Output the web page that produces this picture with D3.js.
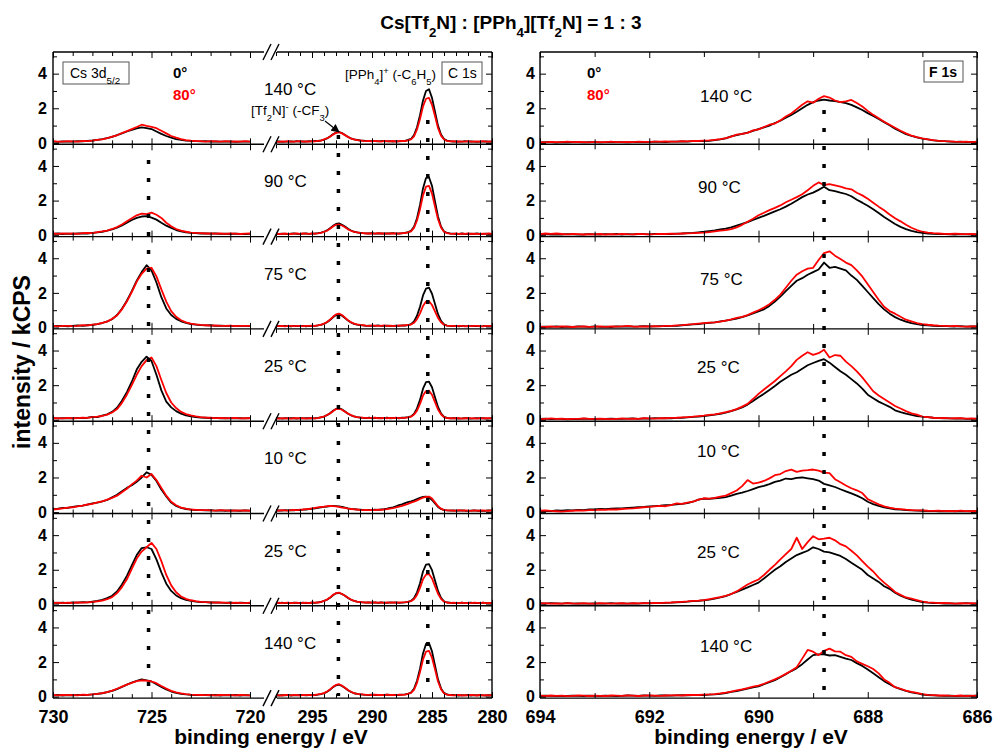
<!DOCTYPE html>
<html>
<head>
<meta charset="utf-8">
<script src="https://cdn.jsdelivr.net/npm/d3@7"></script>
<style>
  body { margin: 0; background: #fff; }
  svg text { font-family: "Liberation Sans", Arial, sans-serif; }
</style>
</head>
<body>
<svg id="chart" width="993" height="751"></svg>
<script>
// ---- data ----

var temps = ["140 °C", "90 °C", "75 °C", "25 °C", "10 °C", "25 °C", "140 °C"];
var angles = ["0°", "80°"];
var angle_colors = ["#000000", "#ff0000"];

// Sampling grids in binding energy (eV), one value per step going down from start
var cs_grid = { start: 730, step: 0.25 };   // Cs 3d5/2, 730 -> 720
var c_grid  = { start: 298, step: 0.25 };   // C 1s, 298 -> 280
var f_grid  = { start: 694, step: 0.1 };    // F 1s, 694 -> 686

// Cs 3d5/2, 0 deg, one array per temperature step (kCPS)
var cs_0 = [
  [.08,.06,.09,.07,.08,.1,.09,.12,.14,.17,.22,.28,.35,.45,.55,.66,.75,.84,.9,.86,.8,.66,.52,.4,.3,.22,.17,.13,.12,.1,.09,.1,.08,.09,.07,.08,.09,.06,.08,.07,.08],
  [.08,.1,.07,.09,.08,.1,.11,.1,.13,.16,.2,.26,.33,.44,.57,.72,.88,1.0,1.08,1.1,1.02,.9,.72,.55,.42,.3,.22,.17,.14,.12,.1,.11,.09,.1,.08,.09,.07,.09,.08,.07,.08],
  [.08,.1,.09,.07,.1,.12,.1,.13,.15,.2,.26,.35,.48,.72,1.08,1.55,2.1,2.7,3.2,3.6,3.3,2.6,1.75,1.1,.72,.5,.36,.27,.2,.17,.14,.12,.13,.1,.11,.09,.1,.08,.09,.1,.08],
  [.1,.08,.09,.1,.08,.11,.1,.12,.17,.16,.24,.32,.46,.7,1.1,1.6,2.2,2.9,3.35,3.65,3.4,2.6,1.7,1.05,.72,.5,.36,.26,.2,.16,.13,.12,.1,.11,.09,.1,.08,.1,.09,.08,.1],
  [.18,.2,.25,.24,.3,.34,.38,.43,.5,.55,.62,.7,.85,1.0,1.2,1.4,1.55,1.75,2.0,2.3,2.15,1.8,1.3,.9,.55,.36,.24,.18,.14,.12,.11,.1,.11,.09,.1,.08,.1,.09,.08,.1,.09],
  [.1,.09,.1,.08,.12,.1,.13,.12,.16,.2,.26,.36,.5,.75,1.15,1.65,2.25,2.85,3.25,3.3,3.2,2.6,1.85,1.2,.78,.52,.36,.26,.2,.16,.14,.13,.11,.12,.1,.09,.11,.08,.1,.09,.08],
  [.08,.1,.07,.09,.08,.1,.09,.11,.13,.16,.2,.26,.34,.44,.56,.7,.82,.92,1.0,.95,.88,.72,.56,.42,.3,.22,.17,.13,.11,.1,.09,.1,.08,.1,.07,.09,.08,.1,.07,.09,.08]
];

// Cs 3d5/2, 80 deg
var cs_80 = [
  [.1,.08,.07,.1,.09,.08,.11,.1,.13,.18,.2,.27,.36,.44,.57,.68,.8,.92,1.05,.98,.93,.85,.7,.55,.4,.3,.22,.16,.13,.11,.1,.08,.1,.09,.08,.1,.07,.09,.08,.1,.07],
  [.1,.08,.11,.09,.1,.08,.12,.13,.12,.18,.22,.27,.36,.47,.62,.8,.98,1.15,1.25,1.22,1.3,1.18,1.0,.72,.52,.36,.26,.2,.15,.13,.12,.1,.11,.09,.1,.08,.1,.09,.07,.09,.1],
  [.1,.07,.1,.09,.08,.1,.13,.12,.16,.19,.27,.34,.5,.7,1.05,1.5,2.05,2.65,3.1,3.4,3.45,2.95,2.2,1.5,.95,.62,.42,.3,.22,.18,.15,.13,.11,.12,.09,.1,.11,.08,.1,.09,.1],
  [.09,.1,.08,.11,.09,.1,.12,.11,.15,.18,.22,.3,.42,.62,.98,1.45,2.0,2.6,3.1,3.45,3.6,3.1,2.3,1.55,1.0,.68,.46,.33,.25,.2,.16,.13,.12,.1,.11,.09,.1,.11,.08,.1,.09],
  [.15,.18,.22,.26,.28,.33,.38,.44,.48,.56,.62,.72,.82,.95,1.15,1.35,1.6,1.82,2.1,2.0,2.2,1.85,1.4,.95,.6,.4,.26,.2,.15,.13,.11,.12,.1,.09,.11,.1,.08,.1,.09,.1,.08],
  [.08,.1,.07,.1,.09,.11,.1,.12,.14,.18,.22,.3,.42,.65,1.0,1.45,2.05,2.65,3.05,3.3,3.55,3.2,2.5,1.7,1.1,.7,.46,.32,.24,.19,.15,.13,.12,.1,.11,.1,.08,.1,.09,.08,.1],
  [.1,.08,.1,.09,.11,.08,.12,.1,.14,.17,.21,.27,.35,.46,.58,.7,.8,.9,.95,.93,.88,.78,.62,.47,.34,.25,.19,.15,.12,.11,.1,.09,.11,.08,.1,.09,.11,.08,.1,.09,.08]
];

// C 1s, 0 deg
var c_0 = [
  [.07,.09,.06,.08,.07,.09,.08,.1,.07,.09,.08,.1,.09,.11, .11,.14,.18,.26,.37,.5,.6,.63,.57,.46,.34,.26,.2,.17,.14,.13,.11, .12,.1,.11,.09,.1,.11,.09,.1,.08,.1,.09,.11,.12, .17,.23,.45,.9,1.6,2.45,3.0,3.1,2.6,1.8,1.0,.48,.22,.13, .1,.08,.09,.07,.08,.1,.07,.09,.08,.06,.08,.07,.09,.08,.07],
  [.08,.07,.09,.08,.06,.09,.1,.08,.07,.09,.1,.08,.09,.1, .12,.15,.2,.28,.4,.54,.65,.68,.6,.5,.37,.27,.2,.16,.14,.12,.11, .1,.12,.09,.11,.1,.09,.11,.1,.12,.09,.1,.11,.13, .18,.25,.48,.98,1.75,2.7,3.3,3.35,2.85,1.95,1.08,.5,.22,.13, .1,.09,.07,.08,.1,.08,.07,.09,.08,.1,.07,.08,.09,.07,.08],
  [.07,.09,.08,.1,.08,.07,.09,.08,.1,.09,.07,.09,.08,.1, .12,.15,.21,.3,.43,.59,.72,.76,.68,.55,.4,.29,.21,.17,.14,.12,.1, .11,.09,.1,.12,.1,.09,.11,.1,.09,.11,.1,.12,.11, .14,.19,.35,.68,1.2,1.85,2.25,2.3,1.95,1.36,.77,.38,.18,.11, .09,.08,.1,.07,.09,.08,.07,.1,.08,.09,.07,.08,.1,.08,.09],
  [.08,.1,.07,.09,.08,.1,.09,.07,.1,.08,.09,.1,.08,.09, .11,.14,.19,.27,.38,.52,.63,.66,.6,.48,.35,.26,.2,.16,.13,.11,.1, .12,.09,.1,.11,.09,.1,.12,.09,.1,.11,.09,.12,.12, .15,.2,.34,.66,1.15,1.8,2.18,2.2,1.88,1.3,.74,.37,.17,.11, .08,.1,.09,.07,.08,.1,.09,.07,.08,.1,.08,.09,.07,.08,.1],
  [.08,.1,.09,.11,.1,.12,.1,.13,.12,.14,.15,.17,.19,.22, .25,.27,.3,.32,.35,.36,.35,.33,.3,.26,.22,.19,.17,.15,.14,.13,.12, .13,.12,.14,.13,.15,.17,.2,.24,.28,.34,.4,.45,.52, .58,.62,.68,.75,.82,.88,.9,.85,.7,.5,.3,.18,.12,.1, .09,.1,.08,.09,.1,.08,.07,.09,.1,.08,.09,.07,.08,.1,.09],
  [.09,.08,.1,.07,.09,.08,.1,.09,.07,.1,.08,.09,.1,.09, .12,.14,.2,.27,.38,.53,.64,.66,.6,.5,.37,.27,.2,.16,.13,.12,.1, .11,.1,.12,.09,.11,.1,.09,.12,.1,.11,.09,.1,.12, .15,.2,.36,.7,1.22,1.9,2.3,2.33,1.98,1.38,.78,.38,.18,.11, .1,.08,.09,.07,.1,.08,.09,.1,.07,.09,.08,.1,.08,.07,.09],
  [.08,.07,.09,.08,.1,.07,.09,.08,.1,.09,.08,.1,.09,.1, .12,.15,.2,.28,.4,.55,.66,.7,.62,.5,.37,.27,.2,.16,.14,.12,.11, .1,.12,.1,.11,.09,.1,.12,.1,.09,.11,.1,.12,.13, .17,.24,.46,.92,1.62,2.5,3.05,3.1,2.62,1.8,1.0,.48,.22,.13, .09,.1,.08,.07,.09,.08,.1,.07,.09,.08,.1,.08,.07,.09,.08]
];

// C 1s, 80 deg
var c_80 = [
  [.08,.06,.09,.07,.1,.08,.07,.09,.1,.08,.09,.07,.1,.09, .12,.13,.2,.27,.36,.48,.58,.62,.55,.45,.35,.25,.21,.16,.15,.12,.1, .11,.09,.12,.1,.08,.11,.1,.09,.11,.08,.1,.12,.11, .15,.2,.38,.78,1.38,2.1,2.55,2.6,2.2,1.55,.86,.42,.2,.12, .09,.1,.07,.09,.08,.07,.1,.08,.07,.09,.08,.1,.07,.08,.09],
  [.09,.07,.08,.1,.08,.07,.09,.11,.08,.1,.09,.08,.1,.09, .11,.14,.19,.26,.37,.5,.6,.62,.56,.46,.34,.26,.19,.17,.13,.12,.1, .11,.1,.09,.12,.1,.11,.09,.1,.11,.1,.09,.12,.12, .16,.22,.42,.85,1.5,2.3,2.8,2.85,2.4,1.65,.92,.45,.2,.12, .09,.08,.1,.07,.09,.08,.1,.07,.09,.08,.07,.09,.08,.1,.07],
  [.09,.08,.1,.07,.09,.1,.08,.1,.09,.08,.1,.09,.11,.09, .13,.16,.22,.32,.45,.62,.76,.8,.72,.57,.42,.31,.22,.18,.15,.13,.11, .1,.12,.11,.09,.1,.12,.1,.11,.09,.1,.12,.11,.13, .14,.17,.27,.48,.82,1.24,1.5,1.52,1.3,.93,.55,.3,.16,.11, .1,.09,.08,.1,.09,.07,.1,.08,.09,.1,.08,.07,.09,.1,.08],
  [.09,.07,.1,.08,.09,.07,.1,.09,.08,.1,.07,.09,.1,.08, .1,.15,.18,.28,.37,.5,.62,.64,.58,.47,.36,.27,.2,.15,.14,.12,.11, .1,.11,.12,.09,.1,.11,.09,.11,.1,.12,.1,.11,.12, .14,.18,.3,.53,.92,1.4,1.66,1.68,1.45,1.02,.6,.32,.16,.1, .09,.08,.1,.09,.07,.09,.1,.08,.09,.07,.1,.08,.09,.1,.07],
  [.1,.08,.11,.1,.09,.12,.13,.11,.14,.15,.17,.18,.21,.24, .27,.3,.31,.34,.36,.35,.33,.3,.26,.24,.2,.18,.16,.15,.13,.12,.13, .11,.13,.12,.14,.13,.15,.17,.2,.23,.27,.32,.36,.42, .48,.55,.6,.68,.76,.84,.88,.9,.78,.56,.34,.2,.13,.1, .1,.08,.09,.11,.08,.1,.09,.07,.1,.09,.08,.1,.09,.08,.1],
  [.07,.1,.08,.09,.1,.07,.09,.1,.08,.09,.1,.08,.11,.1, .11,.15,.2,.28,.4,.55,.65,.68,.6,.5,.38,.28,.21,.16,.14,.12,.11, .12,.1,.11,.1,.12,.09,.11,.1,.12,.1,.11,.12,.13, .15,.19,.3,.55,.95,1.45,1.72,1.75,1.5,1.06,.62,.32,.16,.11, .08,.1,.09,.08,.1,.07,.09,.08,.1,.09,.07,.1,.08,.09,.08],
  [.1,.08,.07,.1,.09,.08,.1,.09,.07,.1,.09,.11,.08,.1, .13,.16,.21,.3,.42,.57,.68,.72,.64,.52,.39,.29,.21,.17,.14,.13,.11, .11,.1,.12,.1,.11,.09,.12,.1,.11,.09,.12,.11,.12, .16,.22,.4,.8,1.42,2.15,2.6,2.65,2.25,1.58,.88,.43,.2,.12, .1,.08,.09,.1,.07,.09,.08,.1,.09,.07,.1,.08,.09,.07,.1]
];

// F 1s, 0 deg
var f_0 = [
  [.03,.05,.04,.02,.04,.03,.05,.04,.03,.04, .05,.03,.04,.06,.04,.05,.03,.05,.06,.04, .05,.07,.06,.05,.08,.07,.09,.08,.1,.11,
   .1,.12,.16,.2,.26,.38,.45,.52,.6,.7, .8,.9,1.0,1.15,1.28,1.45,1.62,1.8,2.0,2.2, 2.35,2.45,2.5,2.45,2.42,2.35,2.3,2.2,2.05,1.9,
   1.72,1.55,1.38,1.2,1.02,.82,.66,.5,.4,.32, .25,.2,.15,.12,.1,.08,.06,.07,.05,.06,.05],
  [.04,.06,.03,.05,.04,.06,.05,.03,.04,.06, .05,.04,.06,.05,.07,.04,.06,.05,.07,.06, .05,.07,.06,.08,.07,.09,.1,.12,.14,.17,
   .2,.24,.28,.33,.38,.45,.55,.65,.76,.88, 1.0,1.12,1.25,1.38,1.5,1.65,1.82,2.0,2.2,2.35, 2.46,2.62,2.8,2.6,2.55,2.46,2.38,2.25,2.05,1.88,
   1.7,1.5,1.28,1.05,.85,.65,.48,.35,.25,.18, .14,.1,.08,.07,.06,.05,.04,.06,.05,.04,.05],
  [.03,.05,.04,.06,.03,.05,.04,.06,.05,.04, .06,.04,.05,.03,.06,.05,.07,.05,.06,.08, .06,.07,.08,.08,.1,.1,.13,.15,.18,.2,
   .24,.27,.3,.35,.4,.45,.52,.6,.7,.82, .93,1.05,1.25,1.5,1.78,2.1,2.4,2.7,2.85,3.05, 3.2,3.35,3.75,3.45,3.5,3.4,3.3,3.0,2.75,2.4,
   2.05,1.7,1.35,1.05,.8,.6,.45,.34,.25,.19, .14,.12,.1,.08,.09,.07,.06,.08,.05,.07,.06],
  [.05,.07,.04,.06,.05,.03,.06,.04,.07,.05, .04,.06,.05,.07,.06,.05,.07,.08,.06,.08, .07,.09,.08,.1,.09,.11,.12,.14,.17,.19,
   .22,.26,.3,.35,.42,.5,.6,.72,.88,1.08, 1.3,1.5,1.72,1.95,2.2,2.4,2.6,2.75,2.95,3.15, 3.28,3.4,3.5,3.3,3.05,2.8,2.6,2.35,2.1,1.8,
   1.45,1.25,1.05,.9,.75,.55,.45,.36,.28,.22, .18,.15,.12,.1,.09,.08,.07,.08,.06,.05,.07],
  [.05,.07,.06,.1,.08,.12,.1,.13,.12,.15, .16,.18,.17,.2,.22,.21,.24,.26,.28,.3, .33,.35,.37,.4,.42,.45,.48,.52,.6,.72,
   .78,.76,.8,.82,.86,.95,1.05,1.12,1.22,1.33, 1.44,1.52,1.62,1.75,1.82,1.94,1.9,1.98,2.0,1.95, 1.9,1.82,1.63,1.55,1.45,1.32,1.2,1.08,.95,.8,
   .6,.46,.36,.28,.22,.16,.14,.12,.1,.09, .08,.06,.07,.05,.06,.04,.05,.06,.04,.05,.06],
  [.07,.05,.08,.06,.04,.07,.05,.06,.04,.05, .06,.04,.05,.07,.05,.06,.04,.06,.05,.07, .06,.08,.07,.09,.1,.12,.14,.16,.19,.21,
   .24,.28,.34,.4,.48,.6,.72,.85,.98,1.12, 1.26,1.5,1.75,2.0,2.2,2.45,2.65,2.85,2.98,3.1, 3.3,3.2,3.05,3.0,2.9,2.8,2.62,2.4,2.2,2.0,
   1.7,1.5,1.3,1.05,.9,.68,.5,.38,.28,.2, .13,.1,.08,.07,.05,.06,.04,.05,.07,.04,.06],
  [.04,.06,.05,.03,.05,.04,.06,.05,.04,.06, .05,.04,.06,.05,.03,.05,.07,.06,.05,.07, .06,.05,.07,.08,.06,.08,.09,.08,.1,.09,
   .1,.12,.14,.17,.21,.28,.32,.4,.47,.54, .6,.72,.84,.96,1.12,1.3,1.48,1.65,1.88,2.15, 2.4,2.45,2.44,2.38,2.4,2.3,2.2,2.12,1.94,1.78,
   1.57,1.35,1.12,.9,.72,.55,.44,.33,.25,.2, .12,.1,.08,.06,.05,.06,.04,.05,.06,.04,.07]
];

// F 1s, 80 deg
var f_80 = [
  [.05,.03,.06,.04,.05,.07,.04,.06,.05,.03, .06,.04,.05,.07,.05,.04,.06,.05,.07,.06, .06,.08,.07,.09,.07,.08,.1,.09,.12,.11,
   .13,.15,.18,.22,.28,.36,.48,.52,.58,.72, .78,.92,1.05,1.12,1.3,1.52,1.7,1.95,2.2,2.4, 2.32,2.55,2.7,2.62,2.45,2.35,2.4,2.48,2.3,2.1,
   1.85,1.62,1.42,1.22,1.05,.88,.7,.55,.42,.33, .26,.2,.16,.12,.1,.09,.07,.06,.08,.05,.07],
  [.06,.1,.08,.1,.07,.05,.07,.06,.04,.06, .05,.07,.04,.06,.05,.08,.06,.05,.07,.06, .05,.06,.08,.07,.09,.08,.1,.11,.12,.14,
   .15,.18,.22,.26,.3,.35,.45,.6,.78,.95, 1.15,1.3,1.45,1.58,1.72,1.9,2.05,2.2,2.37,2.6, 2.85,3.05,2.9,2.95,2.88,2.8,2.7,2.65,2.45,2.3,
   2.1,1.88,1.65,1.44,1.2,.98,.8,.6,.43,.3, .2,.15,.12,.1,.08,.07,.09,.07,.06,.08,.05],
  [.05,.03,.06,.04,.07,.05,.03,.05,.06,.04, .05,.07,.04,.06,.05,.07,.09,.06,.05,.07, .06,.08,.07,.09,.1,.12,.14,.17,.19,.22,
   .25,.28,.3,.34,.4,.47,.55,.62,.72,.86, 1.0,1.15,1.35,1.6,1.9,2.3,2.7,3.05,3.25,3.4, 3.45,3.9,4.3,4.4,4.15,3.95,3.75,3.6,3.3,2.95,
   2.5,2.05,1.6,1.2,.95,.8,.62,.45,.36,.26, .2,.16,.13,.11,.1,.08,.1,.07,.05,.07,.06],
  [.04,.06,.08,.05,.07,.04,.06,.05,.08,.06, .05,.07,.06,.04,.06,.08,.05,.07,.06,.09, .08,.07,.1,.09,.11,.12,.14,.16,.18,.21,
   .24,.28,.32,.37,.44,.52,.62,.76,.92,1.2, 1.5,1.75,2.0,2.24,2.52,2.8,3.1,3.46,3.7,3.9, 3.75,3.85,4.05,3.6,3.74,3.7,3.36,3.1,2.8,2.45,
   2.05,1.65,1.4,1.2,1.0,.8,.65,.5,.37,.3, .19,.16,.12,.1,.11,.08,.09,.1,.07,.08,.06],
  [.08,.1,.07,.05,.03,.06,.08,.1,.09,.12, .11,.14,.13,.16,.15,.18,.2,.22,.25,.28, .3,.33,.36,.34,.4,.5,.48,.55,.6,.72,
   .8,.78,.82,.9,.95,1.1,1.25,1.5,1.85,1.65, 1.7,1.8,1.95,2.13,2.2,2.37,2.45,2.32,2.4,2.42, 2.46,2.4,2.28,2.25,1.9,1.72,1.54,1.38,1.26,1.1,
   .75,.6,.45,.33,.26,.2,.17,.14,.12,.1, .1,.08,.07,.09,.06,.07,.05,.08,.06,.05,.07],
  [.05,.07,.04,.06,.05,.08,.06,.05,.07,.04, .05,.07,.06,.04,.06,.08,.05,.07,.06,.08, .07,.09,.08,.1,.11,.13,.15,.17,.2,.22,
   .25,.3,.36,.42,.5,.6,.75,.95,1.15,1.3, 1.44,1.7,2.0,2.28,2.6,2.9,3.2,3.85,3.2,3.6, 3.94,3.76,3.8,3.85,3.7,3.48,3.35,3.1,2.83,2.5,
   2.18,1.9,1.55,1.26,1.0,.72,.55,.4,.33,.25, .16,.12,.1,.08,.09,.07,.05,.08,.06,.07,.05],
  [.06,.04,.07,.05,.06,.03,.05,.07,.06,.04, .06,.05,.04,.07,.06,.05,.08,.06,.04,.06, .07,.06,.05,.07,.08,.09,.07,.1,.11,.1,
   .12,.13,.15,.19,.24,.3,.36,.42,.5,.58, .64,.75,.88,1.0,1.15,1.32,1.5,1.7,2.2,2.7, 2.6,2.4,2.65,2.78,2.62,2.6,2.4,2.3,2.04,1.9,
   1.76,1.6,1.35,1.0,.8,.55,.46,.35,.28,.22, .15,.11,.09,.07,.08,.06,.05,.07,.04,.06,.05]
];

// Peak positions marked with dotted lines (eV)
var cs_peak  = 725.15;
var cf3_peak = 292.8;
var ph_peak  = 285.35;
var f_peak   = 688.8;

// Tick labels
var cs_tick_labels = [730, 725, 720];
var c_tick_labels  = [295, 290, 285, 280];
var f_tick_labels  = [694, 692, 690, 688, 686];
var y_tick_labels  = [0, 2, 4];
var y_minor_ticks  = [1, 3, 5];

// ---- layout ----

var PANEL_TOP = 52;
var PANEL_H   = 92.3;
var N_PANELS  = temps.length;

var LEFT_X0 = 53, LEFT_X1 = 492;
var BREAK_A = 264, BREAK_B = 277;   // gap in the left frame lines
var RIGHT_X0 = 540, RIGHT_X1 = 977;

var svg = d3.select("#chart");

var x_cs = d3.scaleLinear().domain([730, 720]).range([LEFT_X0, 250]);
var x_c  = d3.scaleLinear().domain([298, 280]).range([276, LEFT_X1]);
var x_f  = d3.scaleLinear().domain([694, 686]).range([RIGHT_X0, RIGHT_X1]);

function panel_top(p) {
  return PANEL_TOP + p * PANEL_H;
}

function y_scale(p) {
  return d3.scaleLinear().domain([-0.08, 5.25]).range([panel_top(p + 1), panel_top(p)]);
}

// Turn a list of intensities into [energy, intensity] pairs on its grid
function to_points(vals, grid) {
  return vals.map(function (v, i) {
    return [grid.start - i * grid.step, v];
  });
}

function strip_domain(sel) {
  sel.select(".domain").remove();
}

// Text made of pieces, some of them sub- or superscript
function rich_text(g, x, y, parts, size) {
  var t = g.append("text").attr("x", x).attr("y", y).attr("font-size", size);
  parts.forEach(function (part) {
    var ts = t.append("tspan").text(part[0]);
    if (part[1] === "sub") {
      ts.attr("baseline-shift", "sub").attr("font-size", size * 0.7);
    }
    else if (part[1] === "sup") {
      ts.attr("baseline-shift", "super").attr("font-size", size * 0.7);
    }
  });
  return t;
}

// ---- spectra ----

var regions = [
  { x: x_cs, grid: cs_grid, series: [cs_0, cs_80] },
  { x: x_c,  grid: c_grid,  series: [c_0, c_80] },
  { x: x_f,  grid: f_grid,  series: [f_0, f_80] }
];

var g_spectra = svg.append("g").attr("class", "spectra");

regions.forEach(function (region) {
  for (var p = 0; p < N_PANELS; ++p) {
    var y = y_scale(p);
    var line = d3.line()
                 .x(function (d) { return region.x(d[0]); })
                 .y(function (d) { return y(d[1]); });

    region.series.forEach(function (series, a) {
      g_spectra.append("path")
               .datum(to_points(series[p], region.grid))
               .attr("d", line)
               .attr("fill", "none")
               .attr("stroke", angle_colors[a])
               .attr("stroke-width", 1.8)
               .attr("stroke-linejoin", "round");
    });
  }
});

// ---- frames and ticks ----

var g_frame = svg.append("g").attr("class", "frame").attr("color", "#000");

function x_ticks(x, vals, len, p) {
  g_frame.append("g")
         .attr("transform", "translate(0," + panel_top(p + 1) + ")")
         .call(d3.axisBottom(x).tickValues(vals).tickSize(-len).tickFormat(""))
         .call(strip_domain);
  g_frame.append("g")
         .attr("transform", "translate(0," + panel_top(p) + ")")
         .call(d3.axisTop(x).tickValues(vals).tickSize(-len).tickFormat(""))
         .call(strip_domain);
}

function y_ticks(y, x_left, x_right) {
  [[y_tick_labels, 6], [y_minor_ticks, 4]].forEach(function (set) {
    g_frame.append("g")
           .attr("transform", "translate(" + x_left + ",0)")
           .call(d3.axisLeft(y).tickValues(set[0]).tickSize(-set[1]).tickFormat(""))
           .call(strip_domain);
    g_frame.append("g")
           .attr("transform", "translate(" + x_right + ",0)")
           .call(d3.axisRight(y).tickValues(set[0]).tickSize(-set[1]).tickFormat(""))
           .call(strip_domain);
  });
}

for (var p = 0; p < N_PANELS; ++p) {
  var y = y_scale(p);

  // minor ticks every eV, a bit longer at the labelled ones
  x_ticks(x_cs, d3.range(720, 731).filter(function (v) { return v % 5 !== 0; }), 4, p);
  x_ticks(x_cs, cs_tick_labels, 6, p);
  x_ticks(x_c, d3.range(280, 299).filter(function (v) { return v % 5 !== 0; }), 4, p);
  x_ticks(x_c, c_tick_labels, 6, p);
  x_ticks(x_f, d3.range(686, 695).filter(function (v) { return v % 2 !== 0; }), 5, p);
  x_ticks(x_f, f_tick_labels, 6, p);

  y_ticks(y, LEFT_X0, LEFT_X1);
  y_ticks(y, RIGHT_X0, RIGHT_X1);

  // tick labels on both left axes
  [[LEFT_X0, 6], [RIGHT_X0, 5]].forEach(function (ax) {
    svg.append("g")
       .attr("transform", "translate(" + ax[0] + ",0)")
       .call(d3.axisLeft(y).tickValues(y_tick_labels).tickSize(0).tickPadding(ax[1]).tickFormat(d3.format("d")))
       .call(strip_domain)
       .attr("font-size", 16)
       .attr("font-weight", "bold");
  });
}

// frame lines
var frame_style = function (sel) {
  sel.attr("stroke", "#000").attr("stroke-width", 1.4).attr("fill", "none");
};

var bottom = panel_top(N_PANELS);

[LEFT_X0, LEFT_X1, RIGHT_X0, RIGHT_X1].forEach(function (xv) {
  g_frame.append("line")
         .attr("x1", xv).attr("x2", xv)
         .attr("y1", PANEL_TOP).attr("y2", bottom)
         .call(frame_style);
});

for (var k = 0; k <= N_PANELS; ++k) {
  var yk = panel_top(k);

  g_frame.append("line").attr("x1", LEFT_X0).attr("x2", BREAK_A).attr("y1", yk).attr("y2", yk).call(frame_style);
  g_frame.append("line").attr("x1", BREAK_B).attr("x2", LEFT_X1).attr("y1", yk).attr("y2", yk).call(frame_style);
  g_frame.append("line").attr("x1", RIGHT_X0).attr("x2", RIGHT_X1).attr("y1", yk).attr("y2", yk).call(frame_style);

  // axis break marks
  [267, 275].forEach(function (xc) {
    g_frame.append("line")
           .attr("x1", xc - 4).attr("y1", yk + 8)
           .attr("x2", xc + 4).attr("y2", yk - 8)
           .call(frame_style);
  });
}

// ---- dotted peak markers ----

var markers = [
  { x: x_cs(cs_peak),  y0: 160 },
  { x: x_c(cf3_peak),  y0: 135 },
  { x: x_c(ph_peak),   y0: 120 },
  { x: x_f(f_peak),    y0: 110 }
];

svg.append("g")
   .selectAll("line")
   .data(markers)
   .enter().append("line")
   .attr("x1", function (d) { return d.x; })
   .attr("x2", function (d) { return d.x; })
   .attr("y1", function (d) { return d.y0; })
   .attr("y2", bottom - 2)
   .attr("stroke", "#000")
   .attr("stroke-width", 3.5)
   .attr("stroke-dasharray", "4,14");

// ---- x tick labels and axis titles ----

[[x_cs, cs_tick_labels], [x_c, c_tick_labels], [x_f, f_tick_labels]].forEach(function (ax) {
  svg.append("g")
     .attr("transform", "translate(0," + bottom + ")")
     .call(d3.axisBottom(ax[0]).tickValues(ax[1]).tickSize(0).tickPadding(12).tickFormat(d3.format("d")))
     .call(strip_domain)
     .attr("font-size", 18)
     .attr("font-weight", "bold");
});

svg.append("text")
   .attr("x", 271).attr("y", 744)
   .attr("text-anchor", "middle")
   .attr("font-size", 21).attr("font-weight", "bold")
   .text("binding energy / eV");

svg.append("text")
   .attr("x", 751).attr("y", 744)
   .attr("text-anchor", "middle")
   .attr("font-size", 21).attr("font-weight", "bold")
   .text("binding energy / eV");

svg.append("text")
   .attr("transform", "translate(30,362) rotate(-90)")
   .attr("text-anchor", "middle")
   .attr("font-size", 23).attr("font-weight", "bold")
   .text("intensity / kCPS");

// title
rich_text(svg, 511, 29,
  [["Cs[Tf"], ["2", "sub"], ["N] : [PPh"], ["4", "sub"], ["][Tf"], ["2", "sub"], ["N] = 1 : 3"]], 19)
  .attr("text-anchor", "middle")
  .attr("font-weight", "bold");

// ---- temperature labels ----

var right_label_pos = [[700, 50], [698, 49], [700, 48], [697, 44], [697, 36], [697, 44], [700, 46]];

temps.forEach(function (t, p) {
  svg.append("text")
     .attr("x", 264).attr("y", panel_top(p) + 43)
     .attr("font-size", 17)
     .text(t);
  svg.append("text")
     .attr("x", right_label_pos[p][0]).attr("y", panel_top(p) + right_label_pos[p][1])
     .attr("font-size", 17)
     .text(t);
});

// ---- legends ----

[173, 587].forEach(function (lx) {
  angles.forEach(function (a, i) {
    svg.append("text")
       .attr("x", lx).attr("y", 78 + i * 22)
       .attr("font-size", 15).attr("font-weight", "bold")
       .attr("fill", angle_colors[i])
       .text(a);
  });
});

// region boxes
function label_box(x, y, w, h) {
  svg.append("rect")
     .attr("x", x).attr("y", y).attr("width", w).attr("height", h)
     .attr("fill", "#fff").attr("stroke", "#555").attr("stroke-width", 1);
}

label_box(63, 62, 66, 22);
rich_text(svg, 70, 78, [["Cs 3d"], ["5/2", "sub"]], 14);

label_box(442, 62, 40, 22);
rich_text(svg, 448, 78, [["C 1s"]], 14);

label_box(924, 61, 39, 21);
rich_text(svg, 929, 77, [["F 1s"]], 14).attr("font-weight", "bold");

// peak annotations
rich_text(svg, 345, 79,
  [["[PPh"], ["4", "sub"], ["]"], ["+", "sup"], [" (-C"], ["6", "sub"], ["H"], ["5", "sub"], [")"]], 13.5);
rich_text(svg, 251, 115,
  [["[Tf"], ["2", "sub"], ["N]"], ["-", "sup"], [" (-CF"], ["3", "sub"], [")"]], 13.5);

svg.append("defs").append("marker")
   .attr("id", "arrow")
   .attr("viewBox", "0 0 10 10")
   .attr("refX", 9).attr("refY", 5)
   .attr("markerWidth", 7).attr("markerHeight", 7)
   .attr("orient", "auto")
   .append("path")
   .attr("d", "M0,0 L10,5 L0,10 z")
   .attr("fill", "#000");

svg.append("line")
   .attr("x1", 325).attr("y1", 121)
   .attr("x2", 339).attr("y2", 132)
   .attr("stroke", "#000").attr("stroke-width", 1.2)
   .attr("marker-end", "url(#arrow)");
</script>
</body>
</html>
